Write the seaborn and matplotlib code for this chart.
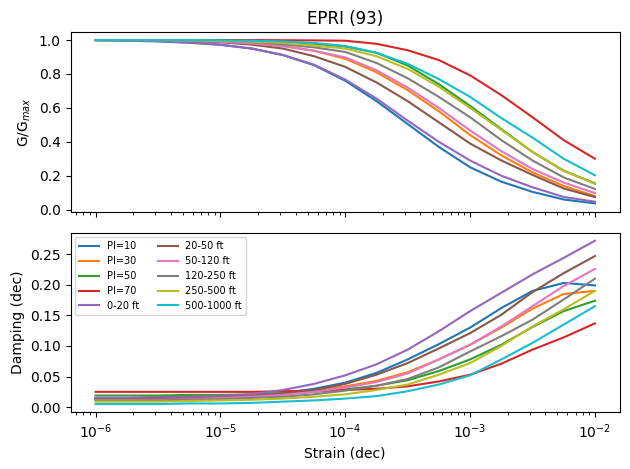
import matplotlib
matplotlib.use("Agg")
import matplotlib.pyplot as plt
import pandas as pd
import seaborn as sns

# strain points, quarter decades from 1e-6 to 1e-2
strain = [1e-6, 1.78e-6, 3.16e-6, 5.62e-6, 1e-5, 1.78e-5, 3.16e-5, 5.62e-5,
          1e-4, 1.78e-4, 3.16e-4, 5.62e-4, 1e-3, 1.78e-3, 3.16e-3, 5.62e-3, 1e-2]

labels = ['PI=10', 'PI=30', 'PI=50', 'PI=70', '0-20 ft', '20-50 ft',
          '50-120 ft', '120-250 ft', '250-500 ft', '500-1000 ft']

# G/Gmax
g_pi10 = [1.0, 0.996, 0.992, 0.984, 0.972, 0.950, 0.912, 0.852, 0.760, 0.640,
          0.505, 0.370, 0.250, 0.165, 0.105, 0.060, 0.037]
g_pi30 = [1.0, 1.0, 0.998, 0.996, 0.991, 0.982, 0.966, 0.937, 0.890, 0.810,
          0.705, 0.580, 0.440, 0.320, 0.220, 0.140, 0.080]
g_pi50 = [1.0, 1.0, 1.0, 0.998, 0.996, 0.993, 0.988, 0.978, 0.962, 0.925,
          0.850, 0.740, 0.612, 0.475, 0.340, 0.230, 0.155]
g_pi70 = [1.0, 1.0, 1.0, 1.0, 1.0, 1.0, 0.999, 0.998, 0.996, 0.978,
          0.940, 0.882, 0.792, 0.675, 0.545, 0.410, 0.300]
g_0_20 = [1.0, 0.998, 0.994, 0.986, 0.973, 0.950, 0.912, 0.855, 0.767, 0.655,
          0.525, 0.400, 0.290, 0.200, 0.132, 0.075, 0.047]
g_20_50 = [1.0, 1.0, 0.998, 0.994, 0.987, 0.973, 0.950, 0.905, 0.842, 0.750,
           0.640, 0.515, 0.390, 0.290, 0.205, 0.125, 0.074]
g_50_120 = [1.0, 1.0, 0.998, 0.995, 0.990, 0.980, 0.963, 0.937, 0.898, 0.822,
            0.720, 0.600, 0.467, 0.345, 0.240, 0.160, 0.098]
g_120_250 = [1.0, 1.0, 1.0, 0.998, 0.995, 0.988, 0.975, 0.957, 0.930, 0.865,
             0.775, 0.665, 0.545, 0.410, 0.290, 0.190, 0.122]
g_250_500 = [1.0, 1.0, 1.0, 0.998, 0.995, 0.991, 0.983, 0.968, 0.950, 0.905,
             0.830, 0.725, 0.600, 0.470, 0.340, 0.228, 0.152]
g_500_1000 = [1.0, 1.0, 1.0, 1.0, 0.998, 0.996, 0.992, 0.983, 0.965, 0.925,
              0.860, 0.770, 0.665, 0.540, 0.425, 0.300, 0.203]

# damping
d_pi10 = [0.015, 0.015, 0.016, 0.016, 0.018, 0.020, 0.023, 0.030, 0.040, 0.056,
          0.078, 0.103, 0.130, 0.162, 0.190, 0.203, 0.199]
d_pi30 = [0.013, 0.013, 0.014, 0.015, 0.016, 0.019, 0.022, 0.027, 0.034, 0.043,
          0.057, 0.078, 0.102, 0.130, 0.161, 0.185, 0.190]
d_pi50 = [0.019, 0.019, 0.019, 0.020, 0.020, 0.021, 0.022, 0.025, 0.029, 0.035,
          0.044, 0.059, 0.078, 0.102, 0.131, 0.157, 0.174]
d_pi70 = [0.025, 0.025, 0.025, 0.025, 0.025, 0.025, 0.026, 0.027, 0.028, 0.030,
          0.034, 0.042, 0.053, 0.071, 0.094, 0.114, 0.137]
d_0_20 = [0.015, 0.015, 0.016, 0.017, 0.018, 0.021, 0.028, 0.038, 0.052, 0.070,
          0.094, 0.124, 0.157, 0.187, 0.217, 0.244, 0.272]
d_20_50 = [0.013, 0.013, 0.014, 0.014, 0.016, 0.018, 0.022, 0.028, 0.038, 0.053,
           0.072, 0.096, 0.121, 0.151, 0.188, 0.219, 0.247]
d_50_120 = [0.012, 0.012, 0.012, 0.013, 0.015, 0.017, 0.020, 0.025, 0.032, 0.041,
            0.055, 0.078, 0.102, 0.132, 0.165, 0.198, 0.226]
d_120_250 = [0.011, 0.011, 0.011, 0.012, 0.013, 0.015, 0.017, 0.021, 0.027, 0.035,
             0.046, 0.065, 0.091, 0.116, 0.143, 0.176, 0.210]
d_250_500 = [0.009, 0.009, 0.009, 0.010, 0.011, 0.012, 0.014, 0.017, 0.021, 0.028,
             0.037, 0.053, 0.072, 0.100, 0.132, 0.160, 0.190]
d_500_1000 = [0.005, 0.005, 0.005, 0.006, 0.006, 0.007, 0.009, 0.011, 0.014, 0.018,
              0.026, 0.037, 0.052, 0.078, 0.105, 0.135, 0.165]

g_all = [g_pi10, g_pi30, g_pi50, g_pi70, g_0_20, g_20_50, g_50_120,
         g_120_250, g_250_500, g_500_1000]
d_all = [d_pi10, d_pi30, d_pi50, d_pi70, d_0_20, d_20_50, d_50_120,
         d_120_250, d_250_500, d_500_1000]

rows = []
for name, g, d in zip(labels, g_all, d_all):
    for s, gv, dv in zip(strain, g, d):
        rows.append({'strain': s, 'curve': name, 'G': gv, 'D': dv})
df = pd.DataFrame(rows)

palette = sns.color_palette('tab10', len(labels))

fig, (ax1, ax2) = plt.subplots(2, 1, sharex=True, figsize=(6.3, 4.69), dpi=100)

sns.lineplot(data=df, x='strain', y='G', hue='curve', hue_order=labels,
             palette=palette, ax=ax1, legend=False, estimator=None, sort=False)
sns.lineplot(data=df, x='strain', y='D', hue='curve', hue_order=labels,
             palette=palette, ax=ax2, estimator=None, sort=False)

ax1.set_xscale('log')
ax1.set_title('EPRI (93)')
ax1.set_ylabel('G/G$_{max}$')
ax1.set_xlabel('')
ax2.set_ylabel('Damping (dec)')
ax2.set_xlabel('Strain (dec)')
ax2.legend(loc='upper left', ncol=2, fontsize=7)

fig.subplots_adjust(left=0.112, right=0.984, top=0.932, bottom=0.121, hspace=0.117)
plt.savefig('out.png')
